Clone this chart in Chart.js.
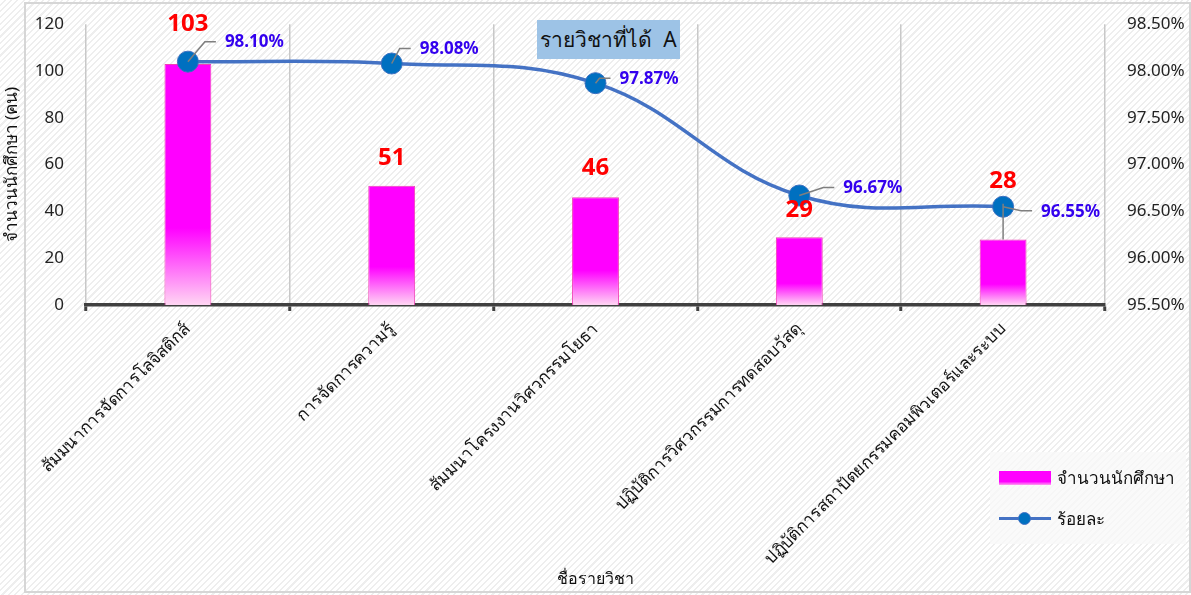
<!DOCTYPE html>
<html>
<head>
<meta charset="utf-8">
<script src="https://cdn.jsdelivr.net/npm/chart.js@4.4.1/dist/chart.umd.min.js"></script>
<style>
  html, body { margin: 0; padding: 0; }
  body {
    width: 1191px; height: 595px; position: relative; overflow: hidden;
    background: repeating-linear-gradient(-45deg, #ffffff 0px, #ffffff 3px, #eeeeee 3px, #eeeeee 4.5px);
    font-family: "Noto Sans", sans-serif;
  }
  #frame { position: absolute; left: 24px; top: 2px; width: 1167px; height: 591px; border: 2px solid #d6d6d6; box-sizing: border-box; }
  #wrap { position: absolute; left: 0; top: 0; width: 1191px; height: 595px; }
  #title { position: absolute; left: 537px; top: 20px; width: 143px; height: 39px; background: #9dc3e6;
    font-size: 21px; color: #111; display: flex; align-items: center; justify-content: center; white-space: pre; }
  #legend { position: absolute; left: 990px; top: 452px; width: 196px; height: 92px; background: rgba(248,248,248,0.75); }
  .li { position: absolute; left: 9px; display: flex; align-items: center; font-size: 17px; color: #111; }
  .sw-bar { width: 52px; height: 14px; background: linear-gradient(#ff00ff 0%, #ff00ff 75%, #ff9ff0 100%); margin-right: 6px; }
  .sw-line { width: 52px; height: 14px; position: relative; margin-right: 6px; }
  .sw-line::before { content: ""; position: absolute; left: 0; right: 0; top: 5.5px; height: 3px; background: #4472c4; }
  .sw-line::after { content: ""; position: absolute; left: 19px; top: 0; width: 13px; height: 13px; border-radius: 50%; background: #0070c0; border: 1px solid #4472c4; box-sizing: border-box; }
</style>
</head>
<body>
<div id="frame"></div>
<div id="wrap"><canvas id="c" width="1191" height="595"></canvas></div>
<div id="title">รายวิชาที่ได้  A</div>
<div id="legend">
  <div class="li" style="top:12px"><div class="sw-bar"></div>จำนวนนักศึกษา</div>
  <div class="li" style="top:53px"><div class="sw-line"></div>ร้อยละ</div>
</div>
<script>
const categories = [
  "สัมมนาการจัดการโลจิสติกส์",
  "การจัดการความรู้",
  "สัมมนาโครงงานวิศวกรรมโยธา",
  "ปฏิบัติการวิศวกรรมการทดสอบวัสดุ",
  "ปฏิบัติการสถาปัตยกรรมคอมพิวเตอร์และระบบ"
];
const studentCounts = [103, 51, 46, 29, 28];
const percentages = [98.10, 98.08, 97.87, 96.67, 96.55];
const countAxis = { min: 0, max: 120, step: 20 };
const percentAxis = { min: 95.5, max: 98.5, step: 0.5 };
const seriesNames = ["จำนวนนักศึกษา", "ร้อยละ"];
const axisTitles = { x: "ชื่อรายวิชา", y: "จำนวนนักศึกษา (คน)" };

const FONT = '"Noto Sans", sans-serif';

function barGradient(ctx) {
  const chart = ctx.chart;
  const area = chart.chartArea;
  if (!area || ctx.type !== 'data') return '#ff00ff';
  const y = chart.scales.y;
  const top = y.getPixelForValue(ctx.parsed.y);
  const bottom = y.getPixelForValue(0);
  const g = chart.ctx.createLinearGradient(0, top, 0, bottom);
  g.addColorStop(0, '#ff00ff');
  g.addColorStop(0.68, '#ff00ff');
  g.addColorStop(1, '#ffd6f3');
  return g;
}

const labelPlugin = {
  id: 'labelPlugin',
  afterDatasetsDraw(chart, args, opts) {
    const ctx = chart.ctx;
    const barMeta = chart.getDatasetMeta(0);
    const lineMeta = chart.getDatasetMeta(1);
    ctx.save();
    ctx.font = 'bold 24px ' + FONT;
    ctx.fillStyle = '#ff0000';
    ctx.textAlign = 'center';
    ctx.textBaseline = 'middle';
    barMeta.data.forEach((el, i) => {
      const off = opts.barLabelOffsets[i];
      if (opts.barLeader[i]) {
        ctx.strokeStyle = '#7f7f7f';
        ctx.lineWidth = 1.5;
        ctx.beginPath();
        ctx.moveTo(el.x, lineMeta.data[i].y - 3);
        ctx.lineTo(el.x, el.y);
        ctx.stroke();
      }
      ctx.fillText(String(studentCounts[i]), el.x, el.y + off);
    });
    ctx.font = 'bold 17px ' + FONT;
    ctx.textAlign = 'left';
    lineMeta.data.forEach((pt, i) => {
      const [dx, dy] = opts.pctLabelOffsets[i];
      const tx = pt.x + dx, ty = pt.y + dy;
      ctx.strokeStyle = '#7f7f7f';
      ctx.lineWidth = 1.5;
      ctx.beginPath();
      ctx.moveTo(pt.x, pt.y);
      ctx.lineTo(tx - 20, ty);
      ctx.lineTo(tx - 9, ty);
      ctx.stroke();
      ctx.fillStyle = '#3300ee';
      ctx.fillText(percentages[i].toFixed(2) + '%', tx, ty + 1);
    });
    ctx.restore();
  }
};

new Chart(document.getElementById('c'), {
  type: 'bar',
  data: {
    labels: categories,
    datasets: [
      {
        type: 'bar',
        label: seriesNames[0],
        data: studentCounts,
        yAxisID: 'y',
        backgroundColor: barGradient,
        borderColor: '#f13fb5',
        borderWidth: 1,
        barPercentage: 0.23,
        categoryPercentage: 1.0,
        order: 2
      },
      {
        type: 'line',
        label: seriesNames[1],
        data: percentages,
        yAxisID: 'y1',
        borderColor: '#4472c4',
        borderWidth: 3.5,
        tension: 0.4,
        pointRadius: 10.5,
        pointBackgroundColor: '#0070c0',
        pointBorderColor: '#3a6fc0',
        pointBorderWidth: 1,
        fill: false,
        order: 1
      }
    ]
  },
  options: {
    responsive: false,
    animation: false,
    events: [],
    layout: { padding: { left: 0, right: 0, top: 14, bottom: 0 } },
    plugins: {
      legend: { display: false },
      tooltip: { enabled: false },
      labelPlugin: {
        barLabelOffsets: [-40, -28, -29, -27, -58],
        barLeader: [false, false, false, false, true],
        pctLabelOffsets: [[37, -20], [28, -15], [24, -5], [44, -8], [38, 4]]
      }
    },
    scales: {
      x: {
        offset: true,
        afterFit(s) { s.height = 290; },
        grid: { display: true, offset: true, color: '#c8c8c8', lineWidth: 1.5, drawTicks: true,
                tickColor: '#404040', tickWidth: 3, tickLength: 6 },
        border: { display: true, color: '#404040', width: 3.5 },
        ticks: { minRotation: 45, maxRotation: 45, autoSkip: false, color: '#111',
                 font: { family: FONT, size: 17 }, padding: 8 },
        title: { display: true, text: axisTitles.x, color: '#111', font: { family: FONT, size: 16 },
                 padding: { top: 4, bottom: 6 } }
      },
      y: {
        position: 'left',
        min: countAxis.min, max: countAxis.max,
        afterFit(s) { s.width = 86; },
        grid: { display: false },
        border: { display: false },
        ticks: { stepSize: countAxis.step, color: '#222', font: { family: FONT, size: 17 }, padding: 14 },
        title: { display: true, text: axisTitles.y, color: '#111', font: { family: FONT, size: 17 }, padding: { top: 2, bottom: 0 } }
      },
      y1: {
        position: 'right',
        min: percentAxis.min, max: percentAxis.max,
        afterFit(s) { s.width = 86; },
        grid: { display: false },
        border: { display: false },
        ticks: { stepSize: percentAxis.step, color: '#222', font: { family: FONT, size: 17 }, padding: 14,
                 callback: v => v.toFixed(2) + '%' }
      }
    }
  },
  plugins: [labelPlugin]
});
</script>
</body>
</html>
